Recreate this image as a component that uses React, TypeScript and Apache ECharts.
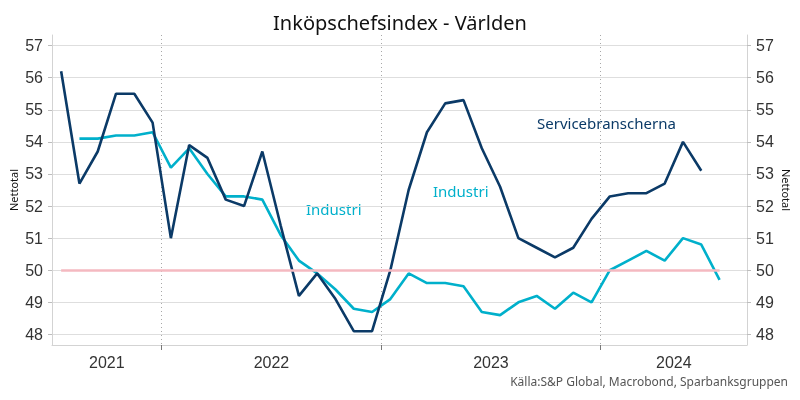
import React, { useEffect, useRef } from "react";
import * as echarts from "echarts";

const months = [
  "Jul 2021", "Aug 2021", "Sep 2021", "Oct 2021", "Nov 2021", "Dec 2021",
  "Jan 2022", "Feb 2022", "Mar 2022", "Apr 2022", "May 2022", "Jun 2022",
  "Jul 2022", "Aug 2022", "Sep 2022", "Oct 2022", "Nov 2022", "Dec 2022",
  "Jan 2023", "Feb 2023", "Mar 2023", "Apr 2023", "May 2023", "Jun 2023",
  "Jul 2023", "Aug 2023", "Sep 2023", "Oct 2023", "Nov 2023", "Dec 2023",
  "Jan 2024", "Feb 2024", "Mar 2024", "Apr 2024", "May 2024", "Jun 2024",
  "Jul 2024", "Aug 2024",
];

const services: (number | null)[] = [
  56.2, 52.7, 53.7, 55.5, 55.5, 54.6,
  51.0, 53.9, 53.5, 52.2, 52.0, 53.7,
  51.4, 49.2, 49.9, 49.1, 48.1, 48.1,
  50.0, 52.5, 54.3, 55.2, 55.3, 53.8,
  52.6, 51.0, 50.7, 50.4, 50.7, 51.6,
  52.3, 52.4, 52.4, 52.7, 54.0, 53.1,
  null, null,
];

const industry: (number | null)[] = [
  null, 54.1, 54.1, 54.2, 54.2, 54.3,
  53.2, 53.8, 53.0, 52.3, 52.3, 52.2,
  51.1, 50.3, 49.9, 49.4, 48.8, 48.7,
  49.1, 49.9, 49.6, 49.6, 49.5, 48.7,
  48.6, 49.0, 49.2, 48.8, 49.3, 49.0,
  50.0, 50.3, 50.6, 50.3, 51.0, 50.8,
  49.7, null,
];

const neutralLevel = 50;
const neutralFirstMonth = "Jul 2021";
const neutralLastMonth = "Jul 2024";

const yTicks = [48, 49, 50, 51, 52, 53, 54, 55, 56, 57];
const yMin = 47.67;
const yMax = 57.33;

const TITLE = "Inköpschefsindex - Världen";
const SOURCE = "Källa:S&P Global, Macrobond, Sparbanksgruppen";
const AXIS_NAME = "Nettotal";

const DARK = "#0b3a67";
const LIGHT = "#00b0cb";
const PINK = "#f4b9c0";
const UI_FONT = "Noto Sans";
const NUM_FONT = "Liberation Sans";

export default function App() {
  const ref = useRef<HTMLDivElement>(null);

  useEffect(() => {
    if (!ref.current) return;
    const chart = echarts.init(ref.current, undefined, { renderer: "svg" });

    // year boundaries (start of each January) and year label centres
    const years: string[] = [];
    const yearStart: Record<string, number> = {};
    months.forEach((m, i) => {
      const y = m.split(" ")[1];
      if (!(y in yearStart)) {
        yearStart[y] = i;
        years.push(y);
      }
    });
    const xMax = months.length;
    const boundaries = years.slice(1).map((y) => yearStart[y]);
    const centers = years.map((y, k) => {
      const s = yearStart[y];
      const e = k + 1 < years.length ? yearStart[years[k + 1]] : xMax;
      return (s + e) / 2;
    });
    const centerToYear: Record<string, string> = {};
    centers.forEach((c, k) => (centerToYear[String(c)] = years[k]));

    const toPts = (arr: (number | null)[]) =>
      arr.map((v, i) => [i + 0.5, v]);

    const yAxisBase = {
      type: "value",
      min: yMin,
      max: yMax,
      splitNumber: 9,
      name: AXIS_NAME,
      nameLocation: "middle",
      nameMoveOverlap: false,
      nameTextStyle: { fontSize: 11, color: "#111", fontFamily: UI_FONT },
      axisLine: { show: true, lineStyle: { color: "#d3d3d3", width: 1 } },
      axisTick: {
        show: true,
        length: 4,
        customValues: yTicks,
        lineStyle: { color: "#bdbdbd" },
      },
      axisLabel: {
        customValues: yTicks,
        fontSize: 16,
        color: "#333",
        fontFamily: NUM_FONT,
        margin: 9,
      },
    };

    chart.setOption({
      animation: false,
      title: {
        text: TITLE,
        left: "center",
        top: 7,
        textStyle: {
          fontSize: 20,
          fontWeight: "normal",
          color: "#111",
          fontFamily: UI_FONT,
        },
      },
      grid: {
        left: 52,
        right: 53,
        top: 35,
        bottom: 55,
        containLabel: false,
        outerBoundsMode: "none",
      },
      xAxis: {
        type: "value",
        min: 0,
        max: xMax,
        axisLine: {
          show: true,
          onZero: false,
          lineStyle: { color: "#d3d3d3", width: 1 },
        },
        axisTick: {
          show: true,
          length: 5,
          customValues: boundaries,
          lineStyle: { color: "#777" },
        },
        axisLabel: {
          customValues: centers,
          formatter: (v: number) => centerToYear[String(v)] ?? "",
          fontSize: 16,
          color: "#333",
          fontFamily: NUM_FONT,
          margin: 9,
        },
        splitLine: {
          show: true,
          lineStyle: { color: "#a8a8a8", type: [1, 3], width: 1 },
        },
      },
      yAxis: [
        {
          ...yAxisBase,
          position: "left",
          nameGap: 33,
          nameRotate: 90,
          splitLine: { show: true, lineStyle: { color: "#dedede", width: 1 } },
        },
        {
          ...yAxisBase,
          position: "right",
          nameGap: 34,
          nameRotate: -90,
          splitLine: { show: false },
        },
      ],
      series: [
        {
          name: "Neutral",
          type: "line",
          data: [],
          silent: true,
          markLine: {
            silent: true,
            symbol: "none",
            label: { show: false },
            lineStyle: { color: PINK, width: 2.5, type: "solid" },
            data: [
              [
                { coord: [months.indexOf(neutralFirstMonth) + 0.5, neutralLevel] },
                { coord: [months.indexOf(neutralLastMonth) + 0.5, neutralLevel] },
              ],
            ],
          },
        },
        {
          name: "Servicebranscherna",
          type: "line",
          data: toPts(services),
          showSymbol: false,
          symbol: "none",
          connectNulls: false,
          lineStyle: { color: DARK, width: 2.6 },
          itemStyle: { color: DARK },
          z: 3,
        },
        {
          name: "Industri",
          type: "line",
          data: toPts(industry),
          showSymbol: false,
          symbol: "none",
          connectNulls: false,
          lineStyle: { color: LIGHT, width: 2.6 },
          itemStyle: { color: LIGHT },
          z: 2,
        },
      ],
      graphic: [
        {
          type: "text",
          left: 306,
          top: 201,
          style: { text: "Industri", fontSize: 15, fill: LIGHT, fontFamily: UI_FONT },
        },
        {
          type: "text",
          left: 433,
          top: 183,
          style: { text: "Industri", fontSize: 15, fill: LIGHT, fontFamily: UI_FONT },
        },
        {
          type: "text",
          left: 537,
          top: 115,
          style: {
            text: "Servicebranscherna",
            fontSize: 15,
            fill: DARK,
            fontFamily: UI_FONT,
          },
        },
        {
          type: "text",
          right: 12,
          top: 375,
          style: { text: SOURCE, fontSize: 12, fill: "#555", fontFamily: UI_FONT },
        },
      ],
    });

    return () => chart.dispose();
  }, []);

  return (
    <div
      ref={ref}
      style={{ position: "fixed", left: 0, top: 0, width: 800, height: 400 }}
    />
  );
}
